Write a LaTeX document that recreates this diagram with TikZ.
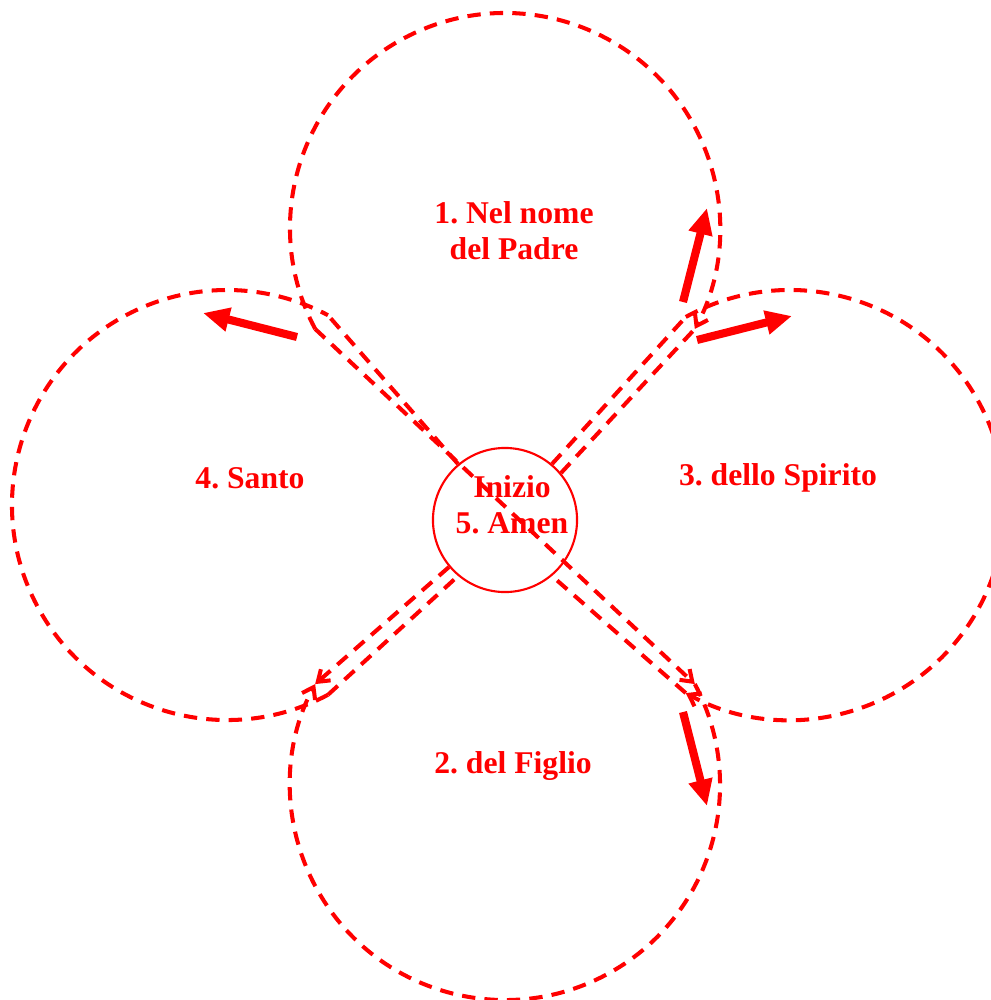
\documentclass[tikz,border=0pt]{standalone}
\usepackage{fontspec}
\setmainfont{Liberation Serif}
\usetikzlibrary{arrows.meta}
\frenchspacing

\begin{document}
\begin{tikzpicture}[x=0.01cm,y=-0.01cm,
  loopline/.style={red,line width=1.15pt,dash pattern=on 3.8pt off 2.6pt},
  smalltip/.style={-{Straight Barb[length=3pt,width=4.2pt]}},
  bigarrow/.style={red,line width=2.3pt,-{Triangle[length=7.5pt,width=6.5pt]}},
  lbl/.style={text=red,font=\fontsize{9}{10.3}\selectfont\bfseries,align=center}]
  \useasboundingbox (0,0) rectangle (990,1000);
  \def\rr{215}
  % centres of the four loops
  \coordinate (T) at (505,228);
  \coordinate (B) at (505,785);
  \coordinate (L) at (227,505);
  \coordinate (R) at (790,505);
  \node[draw=red,line width=0.6pt,circle,minimum size=1.44cm,inner sep=0pt] (C) at (505,520) {};
  \node[lbl] (start) at (512,505) {Inizio\\5. Amen};
  % where the loops meet the diagonals
  \path (T) +(-208:\rr) coordinate (tTL) +(28:\rr) coordinate (tTR);
  \path (R) +(-119:\rr) coordinate (rTR) +(119:\rr) coordinate (rBR);
  \path (B) +(-28:\rr) coordinate (bBR) +(208:\rr) coordinate (bBL);
  \path (L) +(62:\rr) coordinate (lBL) +(298:\rr) coordinate (lTL);

  \draw[loopline,smalltip] (tTL) arc[start angle=-208,end angle=28,radius=\rr];
  \draw[loopline,smalltip] (rTR) arc[start angle=-119,end angle=119,radius=\rr];
  \draw[loopline,smalltip] (bBR) arc[start angle=-28,end angle=208,radius=\rr];
  \draw[loopline] (lBL) arc[start angle=62,end angle=298,radius=\rr];

  \draw[loopline] (C.40) -- (tTR);
  \draw[loopline] (C.50) -- (rTR);
  \draw[loopline,smalltip] (tTL) -- (bBR);
  \draw[loopline] (rBR) -- (C.-50);
  \draw[loopline] (C.130) -- (lTL);
  \draw[loopline,smalltip] (C.-140) -- (bBL);
  \draw[loopline] (lBL) -- (C.-130);

  \foreach \a/\b/\n in {683/302/1,697/340/2,683/712/3,297/337/4}
    {\coordinate (s\n) at (\a,\b);}
  \foreach \a/\b/\n in {707/208/1,792/316/2,707/806/3,203/313/4}
    {\coordinate (e\n) at (\a,\b);}
  \foreach \n in {1,...,4}
    {\draw[bigarrow] (s\n) -- (e\n);}

  \node[lbl] (padre) at (514,231) {1. Nel nome\\del Padre};
  \node[lbl] (figlio) at (513,766) {2. del Figlio};
  \node[lbl] (spirito) at (778,478) {3. dello Spirito};
  \node[lbl] (santo) at (250,478) {4. Santo};
\end{tikzpicture}
\end{document}
